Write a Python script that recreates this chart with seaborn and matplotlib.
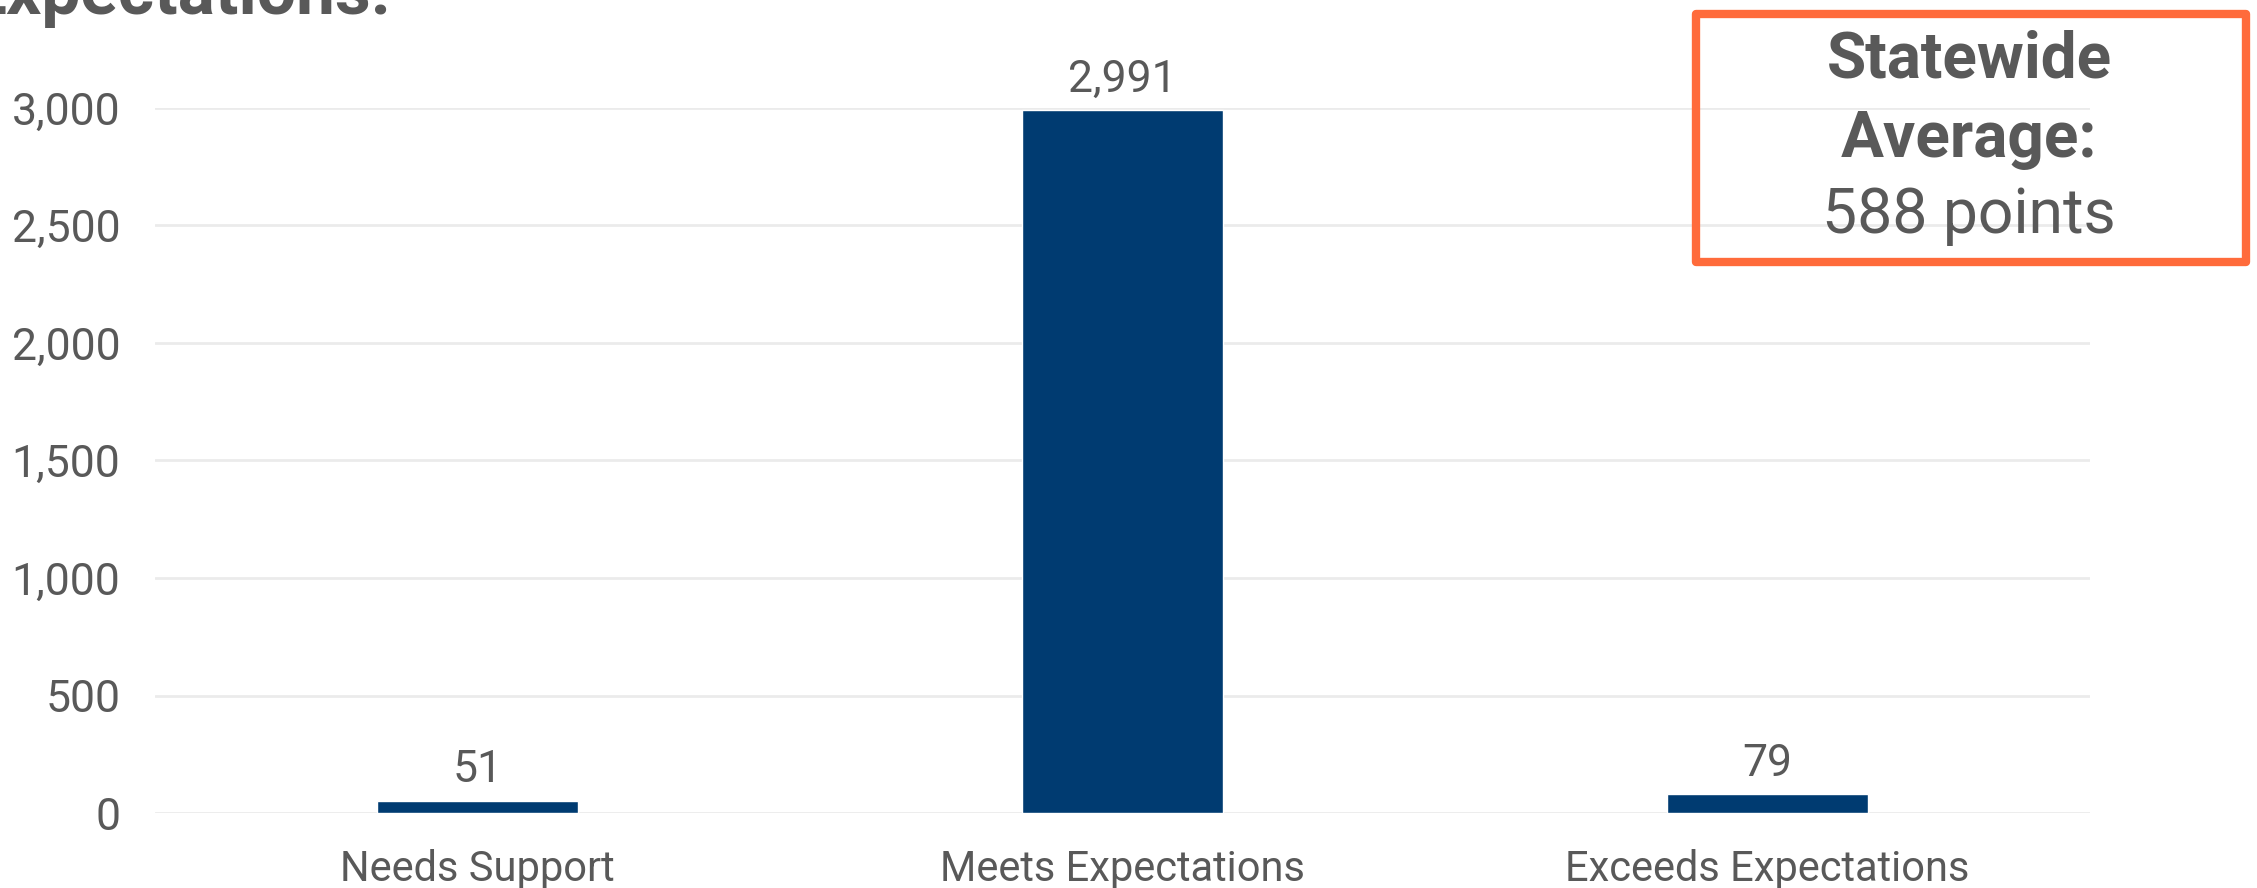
import matplotlib
matplotlib.use("Agg")
import matplotlib.pyplot as plt
import seaborn as sns
import pandas as pd
from matplotlib.patches import Rectangle

categories = ["Needs Support", "Meets Expectations", "Exceeds Expectations"]
values = [51, 2991, 79]
value_labels = ["51", "2,991", "79"]
y_ticks = [0, 500, 1000, 1500, 2000, 2500, 3000]
y_tick_labels = ["0", "500", "1,000", "1,500", "2,000", "2,500", "3,000"]
title_text = "Expectations:"
box_lines = ["Statewide", "Average:", "588 points"]

sns.set_theme(style="white")
plt.rcParams['font.family'] = ['Roboto', 'DejaVu Sans']

W, H, DPI = 2257, 888, 100
fig = plt.figure(figsize=(W / DPI, H / DPI), dpi=DPI)
ax = fig.add_axes([155 / W, 1 - 813 / H, (2090 - 155) / W, (813 - 108) / H])

df = pd.DataFrame({"cat": categories, "val": values})
sns.barplot(data=df, x="cat", y="val", color="#003B71", saturation=1,
            width=0.313, ax=ax, zorder=3)

text_color = "#595959"
ax.set_ylim(0, 3000)
ax.set_yticks(y_ticks)
ax.set_yticklabels(y_tick_labels)
ax.set_xlabel("")
ax.set_ylabel("")
for s in ax.spines.values():
    s.set_visible(False)
ax.grid(axis="y", color="#EBEBEB", linewidth=2, zorder=0)
ax.grid(axis="x", visible=False)
ax.tick_params(axis="y", length=0, pad=25, labelsize=32, labelcolor=text_color)
ax.tick_params(axis="x", length=0, pad=26, labelsize=30, labelcolor=text_color)
ax.set_xlim(-0.5, 2.5)

for i, (v, lab) in enumerate(zip(values, value_labels)):
    ax.annotate(lab, (i, v), xytext=(0, 7), textcoords="offset points",
                ha="center", va="bottom", fontsize=32, color=text_color,
                clip_on=False, annotation_clip=False)

# title remnant at top (cut off by the figure edge, as in the reference)
fig.text(391 / W, 1 - 14 / H, title_text, ha="right", va="baseline",
         fontsize=50, fontweight="bold", color=text_color)

# statewide average box
box = Rectangle((1696 / W, 1 - 262 / H), (2246 - 1696) / W, (262 - 14) / H,
                transform=fig.transFigure, fill=False, edgecolor="#FF6B3B",
                linewidth=6, joinstyle="round")
fig.patches.append(box)
cx = 1969 / W
fig.text(cx, 1 - 60 / H, box_lines[0], ha="center", va="center",
         fontsize=46, fontweight="bold", color=text_color)
fig.text(cx, 1 - 140 / H, box_lines[1], ha="center", va="center",
         fontsize=46, fontweight="bold", color=text_color)
fig.text(cx, 1 - 216 / H, box_lines[2], ha="center", va="center",
         fontsize=45, color=text_color)

fig.savefig("out.png", dpi=DPI, facecolor="white")
